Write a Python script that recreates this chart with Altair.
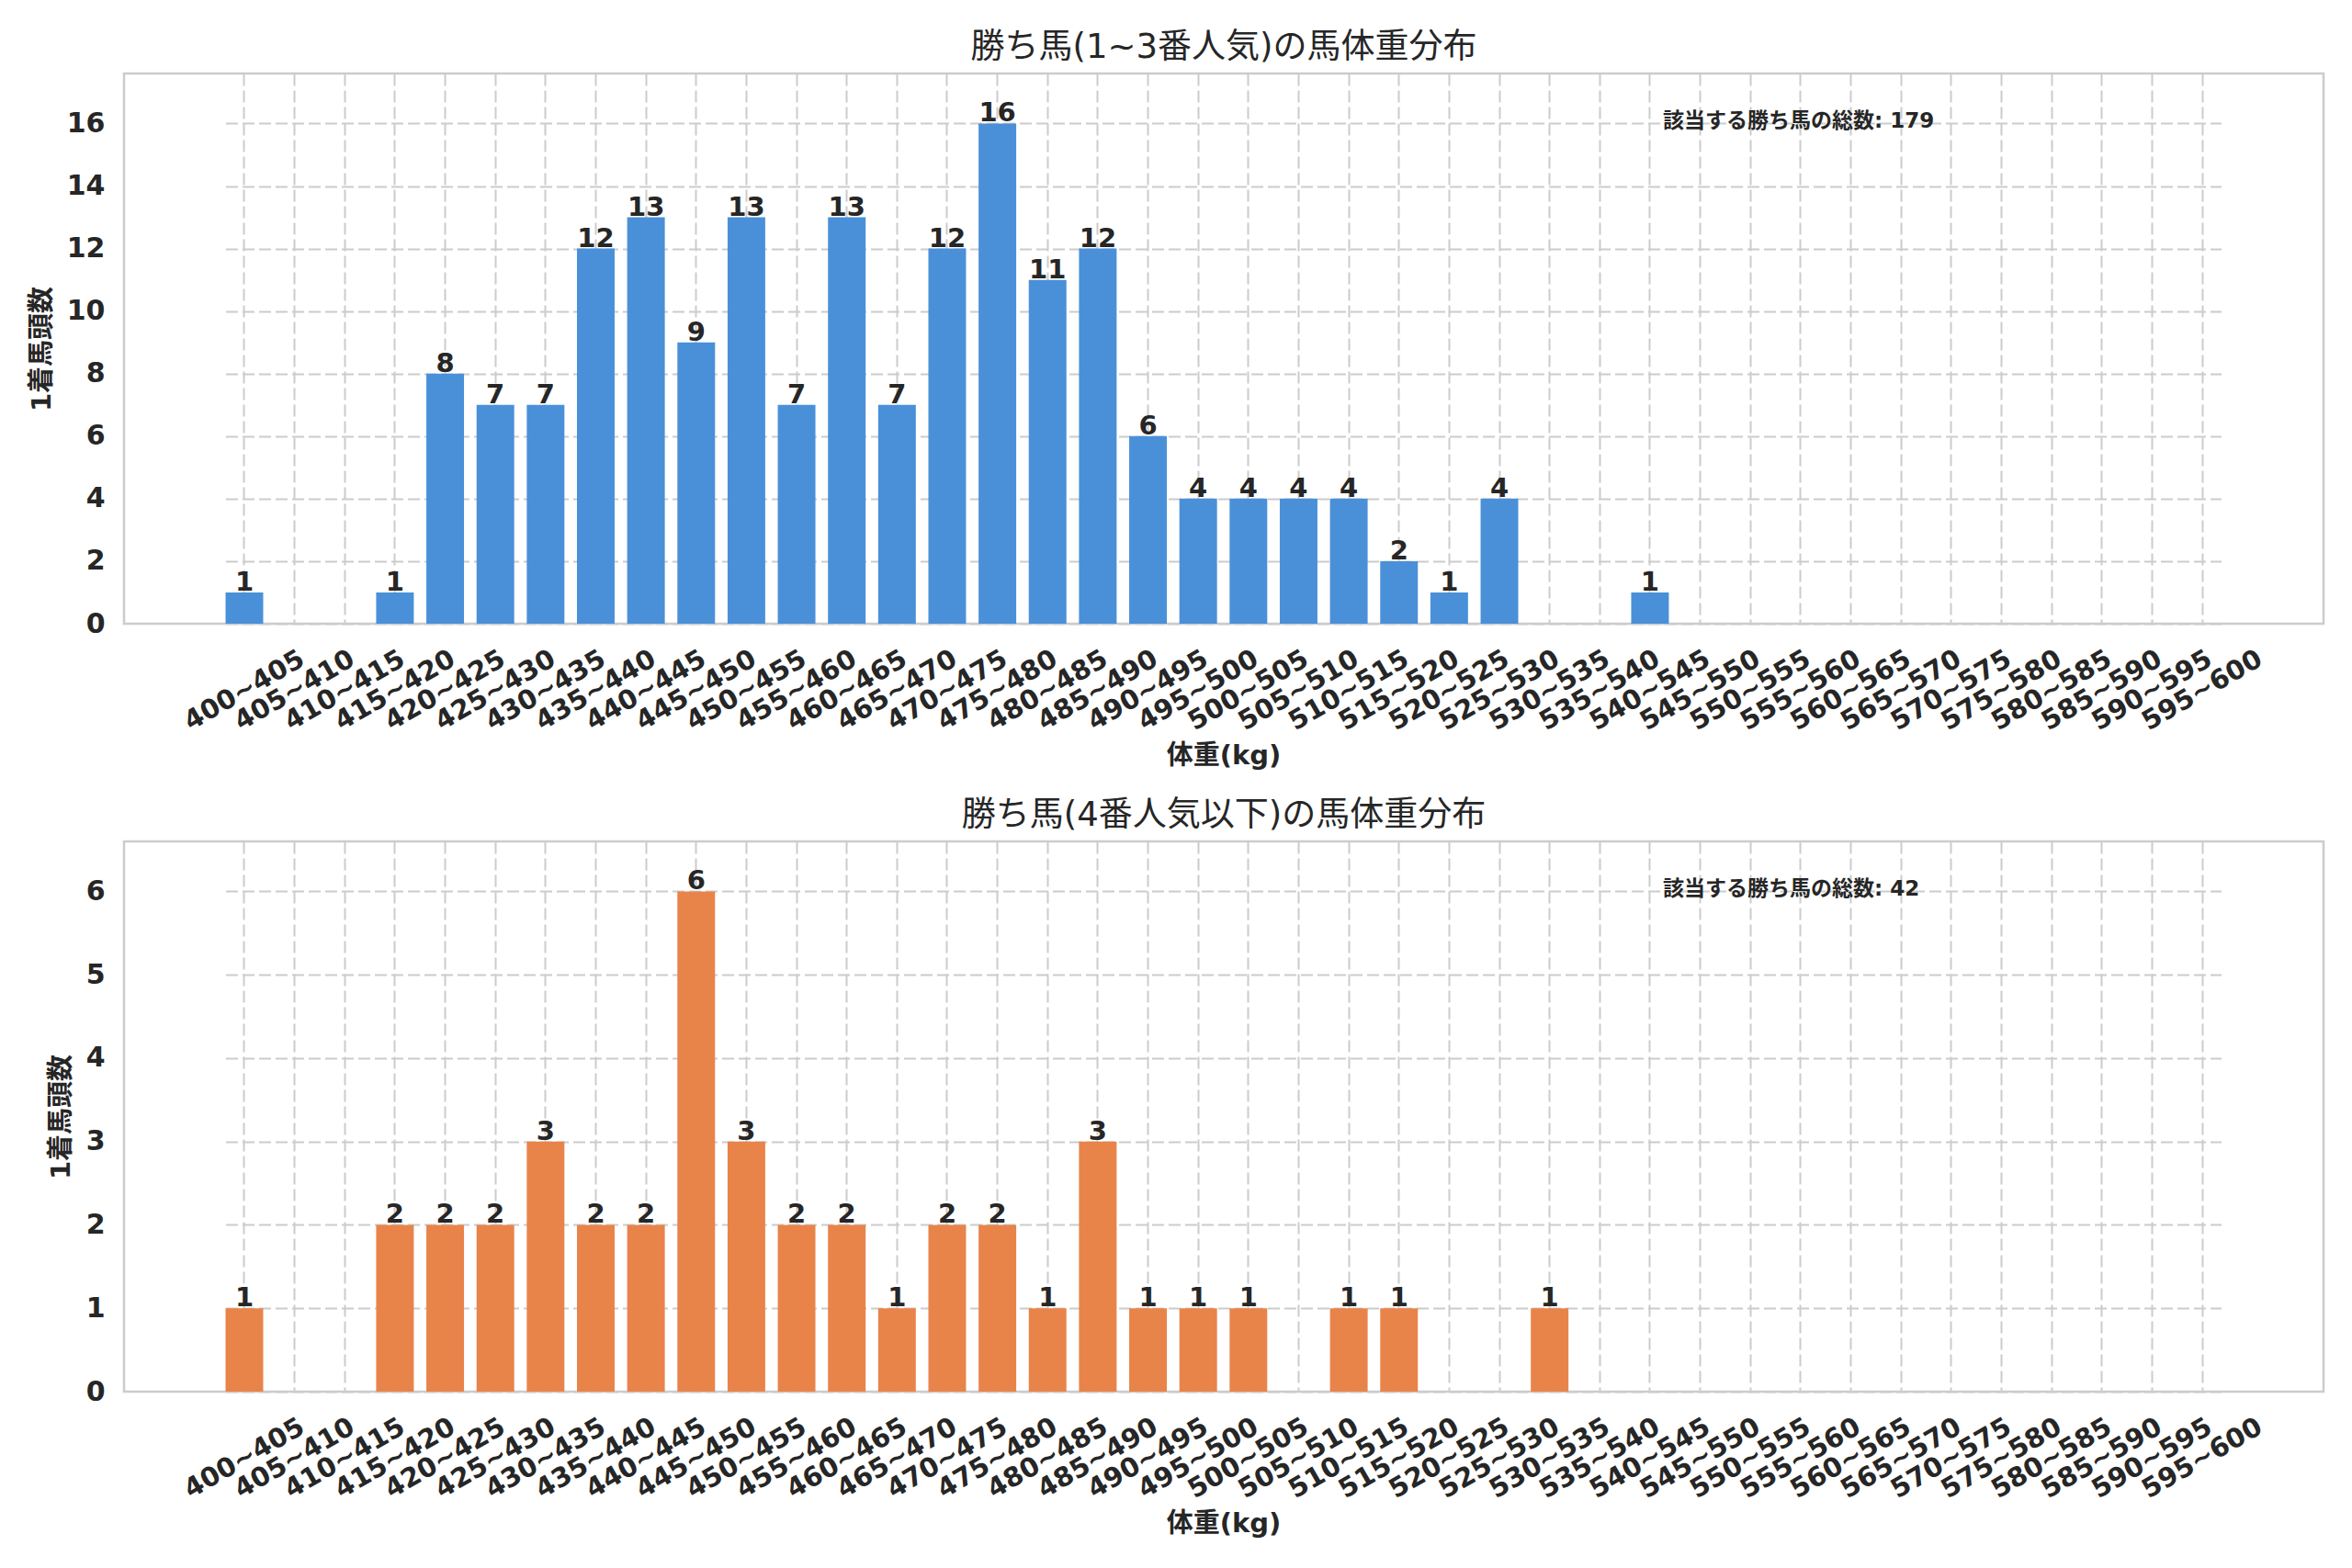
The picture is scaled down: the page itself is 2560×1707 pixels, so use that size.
import altair as alt
import pandas as pd

bins = ["400~405", "405~410", "410~415", "415~420", "420~425", "425~430", "430~435", "435~440",
        "440~445", "445~450", "450~455", "455~460", "460~465", "465~470", "470~475", "475~480",
        "480~485", "485~490", "490~495", "495~500", "500~505", "505~510", "510~515", "515~520",
        "520~525", "525~530", "530~535", "535~540", "540~545", "545~550", "550~555", "555~560",
        "560~565", "565~570", "570~575", "575~580", "580~585", "585~590", "590~595", "595~600"]

counts_top = [1, 0, 0, 1, 8, 7, 7, 12, 13, 9, 13, 7, 13, 7, 12, 16, 11, 12, 6, 4,
              4, 4, 4, 2, 1, 4, 0, 0, 1, 0, 0, 0, 0, 0, 0, 0, 0, 0, 0, 0]
counts_bottom = [1, 0, 0, 2, 2, 2, 3, 2, 2, 6, 3, 2, 2, 1, 2, 2, 1, 3, 1, 1,
                 1, 0, 1, 1, 0, 0, 1, 0, 0, 0, 0, 0, 0, 0, 0, 0, 0, 0, 0, 0]

title_top = "勝ち馬(1~3番人気)の馬体重分布"
title_bottom = "勝ち馬(4番人気以下)の馬体重分布"
x_title = "体重(kg)"
y_title = "1着馬頭数"
note_label = "該当する勝ち馬の総数"
yticks_top = [0, 2, 4, 6, 8, 10, 12, 14, 16]
yticks_bottom = [0, 1, 2, 3, 4, 5, 6]

FONT = "DejaVu Sans, Noto Sans CJK JP, sans-serif"
TXT = "#262626"
GRID = "#cccccc"


def panel(counts, color, title, ymax, yticks):
    df = pd.DataFrame({"bin": bins, "count": counts})
    total = sum(counts)
    base = alt.Chart(df)
    x = alt.X(
        "bin:N", sort=bins,
        scale=alt.Scale(paddingInner=0.25, paddingOuter=0, range=[110.5, 2282.5]),
        axis=alt.Axis(
            title=x_title, labelAngle=-30, labelAlign="center", labelBaseline="middle",
            labelPadding=72, ticks=False, tickSize=0, domain=False, grid=True,
            bandPosition=0.5, gridColor=GRID, gridDash=[13, 5], gridWidth=2,
            labelFont=FONT, labelFontSize=29, labelFontWeight="bold", labelColor=TXT,
            titleFont=FONT, titleFontSize=29, titleFontWeight="bold", titleColor=TXT,
            titlePadding=8, labelOverlap=False,
        ),
    )
    y = alt.Y(
        "count:Q",
        scale=alt.Scale(domain=[0, ymax], nice=False, zero=True),
        axis=alt.Axis(
            title=y_title, values=yticks, ticks=False, tickSize=0, domain=False, grid=True,
            gridColor=GRID, gridDash=[13, 5], gridWidth=2, labelPadding=21,
            labelFont=FONT, labelFontSize=30, labelFontWeight="bold", labelColor=TXT,
            titleFont=FONT, titleFontSize=29, titleFontWeight="bold", titleColor=TXT,
            titlePadding=12,
        ),
    )
    bars = base.mark_bar(color=color).encode(x=x, y=y)
    labels = base.transform_filter("datum.count > 0").mark_text(
        baseline="alphabetic", dy=-2, font=FONT, fontSize=29, fontWeight="bold", color=TXT
    ).encode(x=x, y=y, text="count:Q")
    note = alt.Chart(pd.DataFrame({"t": [f"{note_label}: {total}"]})).mark_text(
        align="left", baseline="middle", font=FONT, fontSize=23, fontWeight="bold", color=TXT
    ).encode(x=alt.value(1675), y=alt.value(52), text="t:N")
    return alt.layer(bars, labels, note).properties(
        width=2394, height=599,
        title=alt.TitleParams(
            text=title, font=FONT, fontSize=37, fontWeight="normal", color=TXT,
            offset=-20, baseline="alphabetic", anchor="middle",
        ),
    )


top = panel(counts_top, "#4a90d9", title_top, 17.6, yticks_top)
bottom = panel(counts_bottom, "#e8844a", title_bottom, 6.6, yticks_bottom)

chart = alt.vconcat(top, bottom, spacing=28).properties(
    padding={"left": 22, "top": 23, "right": 5, "bottom": 5},
    background="white",
).configure_view(stroke=GRID, strokeWidth=2.5)

chart.save("out.html", embed_options={"renderer": "svg", "actions": False})
